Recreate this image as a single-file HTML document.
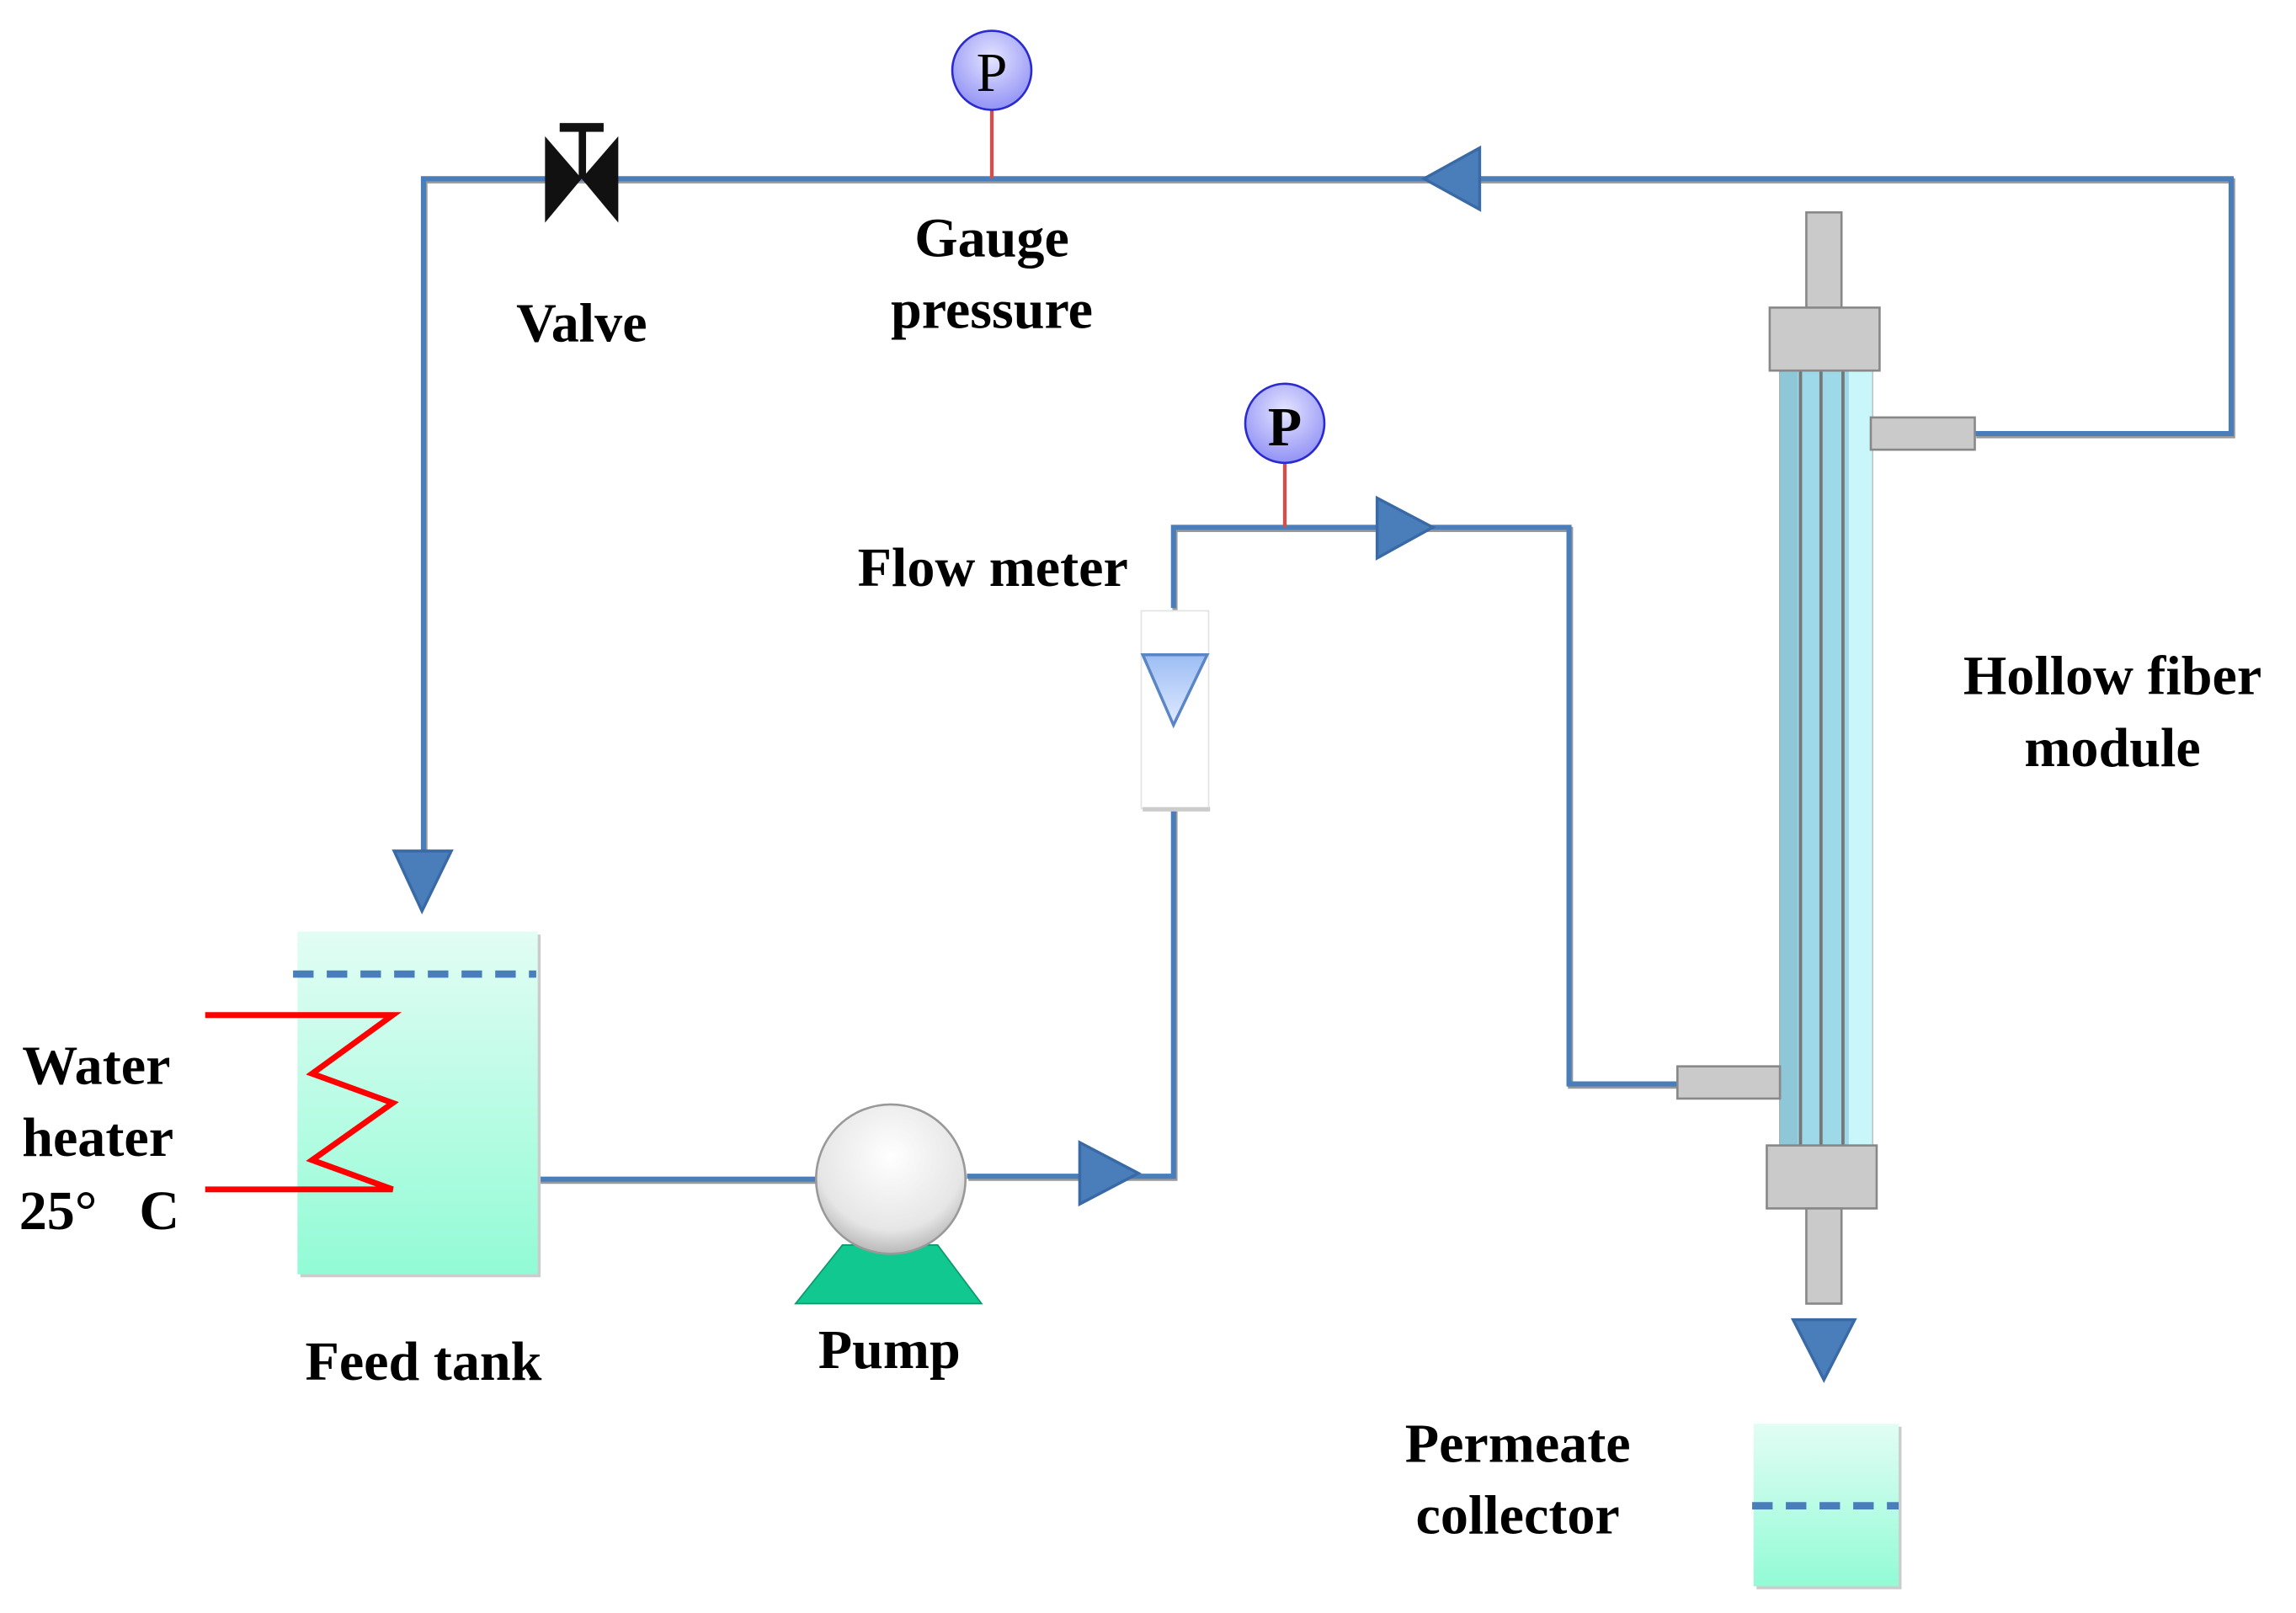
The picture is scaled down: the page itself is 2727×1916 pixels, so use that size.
<!DOCTYPE html>
<html><head><meta charset="utf-8"><style>
html,body{margin:0;padding:0;background:#fff;}
svg{display:block;}
text{font-family:"Liberation Serif",serif;font-weight:bold;fill:#000;}
</style></head><body>
<svg width="2727" height="1916" viewBox="0 0 1567.2 1101.2" xmlns="http://www.w3.org/2000/svg">
<defs>
<linearGradient id="tank" x1="0" y1="0" x2="0" y2="1"><stop offset="0" stop-color="#e2fdf4"/><stop offset="1" stop-color="#92fbd6"/></linearGradient>
<radialGradient id="gauge" cx="0.5" cy="0.35" r="0.7"><stop offset="0" stop-color="#e4e4ff"/><stop offset="1" stop-color="#8c8cf5"/></radialGradient>
<radialGradient id="pump" cx="0.5" cy="0.35" r="0.7"><stop offset="0" stop-color="#ffffff"/><stop offset="0.7" stop-color="#e6e6e6"/><stop offset="1" stop-color="#aaaaaa"/></radialGradient>
<linearGradient id="fm" x1="0" y1="0" x2="0" y2="1"><stop offset="0" stop-color="#9cbdf4"/><stop offset="1" stop-color="#e0eaff"/></linearGradient>
</defs>
<g fill="none" stroke-linejoin="miter">
<g stroke="#999" stroke-width="3.5" transform="translate(1,1.5)">
<polyline points="289,590 289,122 1523,122 1523,296 1348,296"/>
<polyline points="801,415 801,360 1071,360 1071,740 1145,740"/>
<polyline points="801,552 801,803 660,803"/>
<line x1="367" y1="805" x2="560" y2="805"/>
</g>
<g stroke="#4a7ebb" stroke-width="3.5">
<polyline points="289,590 289,122 1523,122 1523,296 1348,296"/>
<polyline points="801,415 801,360 1071,360 1071,740 1145,740"/>
<polyline points="801,552 801,803 660,803"/>
<line x1="367" y1="805" x2="560" y2="805"/>
</g>
</g>
<g fill="#4a7ebb" stroke="#3a6aa5" stroke-width="2">
<polygon points="269,581 308,581 288,622"/>
<polygon points="972,122 1010,101 1010,143"/>
<polygon points="940,340 940,381 978,360"/>
<polygon points="737,780 737,822 777,801"/>
<polygon points="1224,901 1266,901 1245,942"/>
</g>
<rect x="382" y="84" width="30" height="6" fill="#111"/>
<rect x="395" y="88" width="5" height="34" fill="#111"/>
<polygon points="372,93 372,152 397,122" fill="#111"/>
<polygon points="422,93 422,152 397,122" fill="#111"/>
<line x1="677" y1="75" x2="677" y2="122" stroke="#d05050" stroke-width="2.5"/>
<circle cx="677" cy="48" r="27" fill="url(#gauge)" stroke="#2a2ad0" stroke-width="1.5"/>
<text x="677" y="62" font-size="38" text-anchor="middle" style="font-weight:normal">P</text>
<line x1="877" y1="316" x2="877" y2="360" stroke="#d05050" stroke-width="2.5"/>
<circle cx="877" cy="289" r="27" fill="url(#gauge)" stroke="#2a2ad0" stroke-width="1.5"/>
<text x="877" y="304" font-size="38" text-anchor="middle">P</text>
<rect x="779" y="417" width="46" height="135" fill="#fff" stroke="#e4e4e4" stroke-width="1"/>
<rect x="780" y="551" width="46" height="3" fill="#ccc"/>
<polygon points="780,447 824,447 801,495" fill="url(#fm)" stroke="#5a86c5" stroke-width="2"/>
<rect x="205" y="638" width="164" height="234" fill="#ccc"/>
<rect x="203" y="636" width="164" height="234" fill="url(#tank)"/>
<line x1="200" y1="665" x2="366" y2="665" stroke="#4a7ebb" stroke-width="5" stroke-dasharray="14,9"/>
<polyline points="140,693 268,693 213,733 268,753 213,792 268,812 140,812" fill="none" stroke="#ff0000" stroke-width="4"/>
<polygon points="543,890 670,890 640,850 575,850" fill="#10c890" stroke="#0e9a6e" stroke-width="1"/>
<circle cx="608" cy="805" r="51" fill="url(#pump)" stroke="#999" stroke-width="1.5"/>
<rect x="1233" y="145" width="24" height="66" fill="#cacaca" stroke="#888" stroke-width="1.5"/>
<rect x="1215" y="252" width="63" height="530" fill="#9ed9ea" stroke="#999" stroke-width="1"/>
<rect x="1262" y="252" width="16" height="530" fill="#c9f6fb"/>
<rect x="1215" y="252" width="12" height="530" fill="#8ec8d8"/>
<g stroke="#777" stroke-width="2.2">
<line x1="1229" y1="252" x2="1229" y2="782"/>
<line x1="1243" y1="252" x2="1243" y2="782"/>
<line x1="1258" y1="252" x2="1258" y2="782"/>
</g>
<rect x="1208" y="210" width="75" height="43" fill="#cacaca" stroke="#888" stroke-width="1.5"/>
<rect x="1206" y="782" width="75" height="43" fill="#cacaca" stroke="#888" stroke-width="1.5"/>
<rect x="1233" y="825" width="24" height="65" fill="#cacaca" stroke="#888" stroke-width="1.5"/>
<rect x="1277" y="285" width="71" height="22" fill="#cacaca" stroke="#888" stroke-width="1.5"/>
<rect x="1145" y="728" width="70" height="22" fill="#cacaca" stroke="#888" stroke-width="1.5"/>
<rect x="1199" y="974" width="99" height="111" fill="#ccc"/>
<rect x="1197" y="972" width="99" height="111" fill="url(#tank)"/>
<line x1="1196" y1="1028" x2="1296" y2="1028" stroke="#4a7ebb" stroke-width="5" stroke-dasharray="14,9"/>
<g font-size="38">
<text x="677" y="175" text-anchor="middle">Gauge</text>
<text x="677" y="224" text-anchor="middle">pressure</text>
<text x="397" y="233" text-anchor="middle">Valve</text>
<text x="770" y="400" text-anchor="end">Flow meter</text>
<text x="1442" y="474" text-anchor="middle">Hollow fiber</text>
<text x="1442" y="523" text-anchor="middle">module</text>
<text x="15" y="740">Water</text>
<text x="15" y="789">heater</text>
<text x="13" y="839">25°</text>
<text x="95" y="839">C</text>
<text x="289" y="942" text-anchor="middle">Feed tank</text>
<text x="607" y="934" text-anchor="middle">Pump</text>
<text x="1036" y="998" text-anchor="middle">Permeate</text>
<text x="1036" y="1047" text-anchor="middle">collector</text>
</g>
</svg>
</body></html>
